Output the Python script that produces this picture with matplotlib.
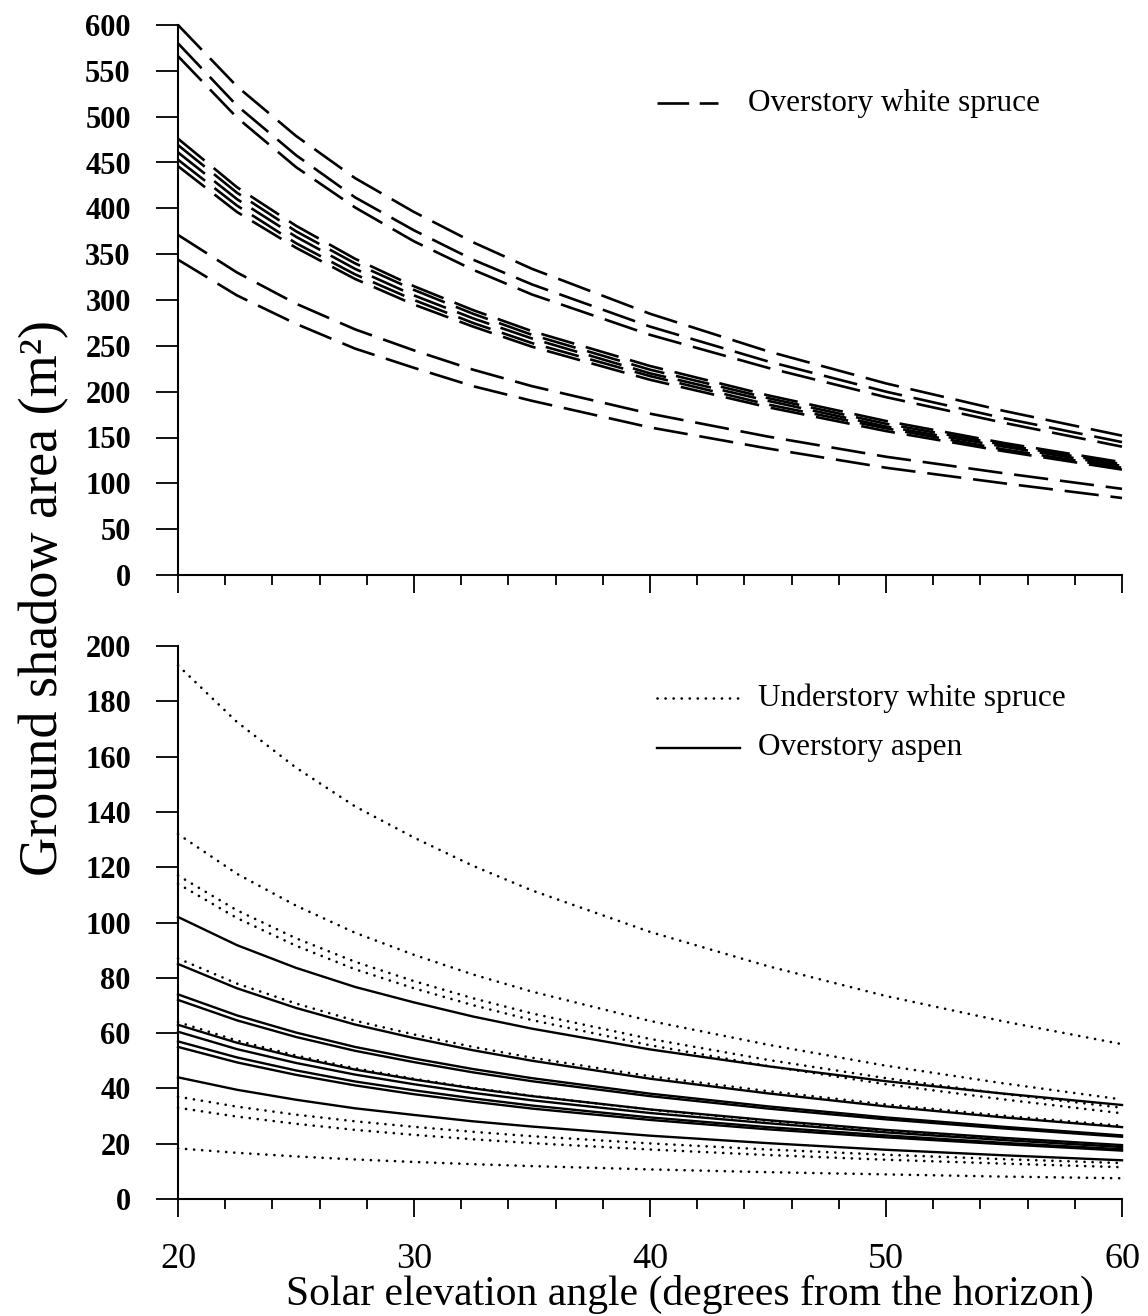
import matplotlib
matplotlib.use("Agg")
import matplotlib.pyplot as plt
from matplotlib.ticker import MultipleLocator
from matplotlib.lines import Line2D

plt.rcParams['font.family'] = ['Liberation Serif', 'DejaVu Serif']

# Solar elevation angle (degrees)
angles = [20, 22.5, 25, 27.5, 30, 32.5, 35, 40, 45, 50, 55, 60]

# ---- Top panel: overstory white spruce (m^2) ----
ows_a = [600, 533, 479, 433, 396, 363, 334, 285, 244, 209, 179, 152]
ows_b = [580, 512, 458, 412, 376, 344, 317, 271, 233, 200, 171, 145]
ows_c = [566, 499, 445, 401, 364, 333, 306, 262, 226, 194, 166, 140]
ows_g1 = [476, 423, 381, 345, 315, 289, 266, 228, 196, 168, 144, 123]
ows_g2 = [469, 417, 375, 340, 311, 285, 262, 224, 193, 165, 142, 121]
ows_g3 = [461, 410, 369, 334, 305, 280, 258, 220, 190, 162, 140, 119]
ows_g4 = [453, 403, 362, 328, 300, 275, 253, 217, 186, 160, 137, 117]
ows_g5 = [446, 396, 357, 323, 295, 271, 249, 213, 183, 157, 135, 115]
ows_d = [371, 330, 296, 268, 245, 224, 206, 176, 151, 129, 111, 94]
ows_e = [344, 305, 274, 247, 226, 206, 190, 161, 138, 117, 100, 84]
overstory_spruce = [ows_a, ows_b, ows_c, ows_g1, ows_g2, ows_g3, ows_g4,
                    ows_g5, ows_d, ows_e]

# ---- Bottom panel: understory white spruce (dotted) ----
uws_1 = [193, 172.5, 156, 142, 130.7, 120.5, 111.6, 96.6, 84.2, 73.4, 64.2, 56]
uws_2 = [132, 117.6, 106.1, 96.3, 88.3, 81.2, 75, 64.4, 55.8, 48.2, 41.8, 36]
uws_3 = [117, 104.4, 94.3, 85.8, 78.8, 72.6, 67.1, 57.9, 50.3, 43.7, 38, 33]
uws_4 = [114, 101.6, 91.6, 83.1, 76.2, 70.1, 64.7, 55.6, 48.1, 41.5, 36, 31]
uws_5 = [87, 77.9, 70.7, 64.5, 59.5, 55, 51.1, 44.4, 39, 34.2, 30.1, 26.5]
uws_6 = [64, 57.3, 51.9, 47.3, 43.5, 40.2, 37.3, 32.3, 28.3, 24.7, 21.7, 19]
uws_7 = [37, 33.4, 30.5, 28.1, 26.1, 24.3, 22.7, 20.1, 17.9, 16, 14.4, 13]
uws_8 = [33, 29.8, 27.2, 25, 23.2, 21.6, 20.2, 17.9, 15.9, 14.2, 12.8, 11.5]
uws_9 = [18.3, 16.7, 15.4, 14.3, 13.4, 12.6, 11.9, 10.7, 9.7, 8.9, 8.1, 7.5]
understory_spruce = [uws_1, uws_2, uws_3, uws_4, uws_5, uws_6, uws_7,
                     uws_8, uws_9]

# ---- Bottom panel: overstory aspen (solid) ----
oa_1 = [102, 91.8, 83.6, 76.7, 71.1, 66, 61.6, 54.1, 48, 42.6, 38.1, 34]
oa_2 = [85, 76.2, 69.1, 63.1, 58.2, 53.8, 50, 43.5, 38.2, 33.5, 29.5, 26]
oa_3 = [74, 66.4, 60.2, 55, 50.8, 47, 43.7, 38.1, 33.5, 29.5, 26.1, 23]
oa_4 = [72, 64.6, 58.6, 53.6, 49.5, 45.8, 42.6, 37.2, 32.7, 28.8, 25.5, 22.5]
oa_5 = [63, 56.5, 51.3, 46.8, 43.2, 40, 37.2, 32.4, 28.5, 25, 22.1, 19.5]
oa_6 = [60.5, 54.2, 49.2, 45, 41.5, 38.4, 35.7, 31.1, 27.4, 24.1, 21.3, 18.8]
oa_7 = [57, 51.2, 46.5, 42.5, 39.3, 36.4, 33.8, 29.5, 26, 23, 20.3, 18]
oa_8 = [55, 49.4, 44.9, 41.1, 37.9, 35.2, 32.7, 28.6, 25.2, 22.3, 19.8, 17.5]
oa_9 = [44, 39.5, 35.9, 32.8, 30.4, 28.1, 26.2, 22.9, 20.2, 17.8, 15.8, 14]
overstory_aspen = [oa_1, oa_2, oa_3, oa_4, oa_5, oa_6, oa_7, oa_8, oa_9]

top_yticks = list(range(0, 601, 50))
bottom_yticks = list(range(0, 201, 20))
xticks = [20, 30, 40, 50, 60]

fig = plt.figure(figsize=(11.48, 13.16), dpi=100)
W, H = 1148, 1316
ax1 = fig.add_axes([178 / W, 1 - 575 / H, 944 / W, 550 / H])
ax2 = fig.add_axes([178 / W, 1 - 1199 / H, 944 / W, 553 / H])

LW = 1.9
DASH = (13, 4.5)
DOT_LW = 1.9
DOT = (0.05, 3.0)

for s in overstory_spruce:
    ax1.plot(angles, s, color='black', lw=LW, dashes=DASH, clip_on=False,
             dash_capstyle='butt')

for s in understory_spruce:
    ax2.plot(angles, s, color='black', lw=DOT_LW, dashes=DOT, clip_on=False,
             dash_capstyle='round')
for s in overstory_aspen:
    ax2.plot(angles, s, color='black', lw=1.7, clip_on=False)

for ax, ymax, yt in ((ax1, 600, top_yticks), (ax2, 200, bottom_yticks)):
    ax.set_xlim(20, 60)
    ax.set_ylim(0, ymax)
    ax.set_yticks(yt)
    ax.set_xticks(xticks)
    ax.xaxis.set_minor_locator(MultipleLocator(2))
    for side in ('top', 'right'):
        ax.spines[side].set_visible(False)
    for side in ('left', 'bottom'):
        ax.spines[side].set_linewidth(1.5)
    ax.tick_params(axis='y', which='major', direction='out', length=16,
                   width=1.3, pad=18, labelsize=22)
    ax.tick_params(axis='x', which='major', direction='out', length=13,
                   width=1.3, pad=19, labelsize=26)
    ax.tick_params(axis='x', which='minor', direction='out', length=7,
                   width=1.3)
    for lab in ax.get_yticklabels():
        lab.set_fontweight('bold')

ax1.tick_params(axis='x', labelbottom=False)

# legends
ax1.add_line(Line2D([0.507, 0.572], [0.858, 0.858], transform=ax1.transAxes,
                    color='black', lw=LW, dashes=(12, 4)))
ax1.text(0.604, 0.858, 'Overstory white spruce', transform=ax1.transAxes,
         va='center', ha='left', fontsize=22.5)
ax2.add_line(Line2D([0.507, 0.595], [0.906, 0.906], transform=ax2.transAxes,
                    color='black', lw=DOT_LW, dashes=DOT,
                    dash_capstyle='round'))
ax2.text(0.614, 0.906, 'Understory white spruce', transform=ax2.transAxes,
         va='center', ha='left', fontsize=22.5)
ax2.add_line(Line2D([0.507, 0.595], [0.8156, 0.8156], transform=ax2.transAxes,
                    color='black', lw=1.7))
ax2.text(0.614, 0.8156, 'Overstory aspen', transform=ax2.transAxes,
         va='center', ha='left', fontsize=22.5)

fig.text(44 / W, 1 - 598 / H, 'Ground shadow area (m²)', rotation=90,
         ha='center', va='center', fontsize=39)
fig.text(690 / W, 1 - 1305 / H,
         'Solar elevation angle (degrees from the horizon)',
         ha='center', va='baseline', fontsize=30)

fig.savefig('out.png', dpi=100)
